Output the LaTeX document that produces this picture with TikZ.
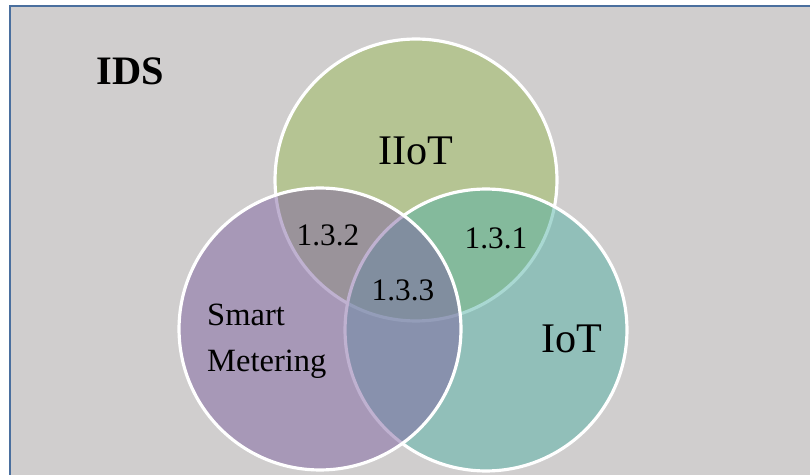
\documentclass[tikz,border=0pt]{standalone}
\usepackage{fontspec}
\setmainfont{Liberation Serif}
\usetikzlibrary{positioning}

\definecolor{iiotgreen}{HTML}{9BBB59}
\definecolor{smpurple}{HTML}{8064A2}
\definecolor{iotteal}{HTML}{54B2A6}
\definecolor{idsgrey}{HTML}{D0CECE}
\definecolor{idsframe}{HTML}{4A6F9E}

\begin{document}
\begin{tikzpicture}[x=0.02cm,y=-0.02cm,
			set node/.style={circle,draw=white,line width=1.8pt,
				fill opacity=0.5,minimum size=5.64cm,inner sep=0pt},
			big label/.style={font=\fontsize{24}{28}\selectfont},
			num label/.style={font=\fontsize{17.8}{20}\selectfont}]
			
			\useasboundingbox (0,0) rectangle (810,475);
			\fill[idsgrey] (10,6) rectangle (810,475);
			\draw[idsframe,line width=1.5pt] (10,475) -- (10,6) -- (810,6);
			
			\node[set node,fill=iiotgreen] (G) at (416,180) {};
			\node[set node,fill=iotteal] (T) at (486,330) {};
			\node[set node,fill=smpurple] (P) at (320,329) {};
			
			\node[font=\bfseries\fontsize{23}{28}\selectfont] (ids) at (130,71) {IDS};
			\node[big label] (iiot) at (416,151) {IIoT};
			\node[big label] (iot) at (572,339) {IoT};
			\node[font=\fontsize{18.5}{26}\selectfont,align=left,anchor=west] (sm) at (201,341) {Smart\\Metering};
			\node[num label] (a) at (328,235) {1.3.2};
			\node[num label] (b) at (496,238) {1.3.1};
			\node[num label] (c) at (403,290) {1.3.3};
			
		\end{tikzpicture}
\end{document}
